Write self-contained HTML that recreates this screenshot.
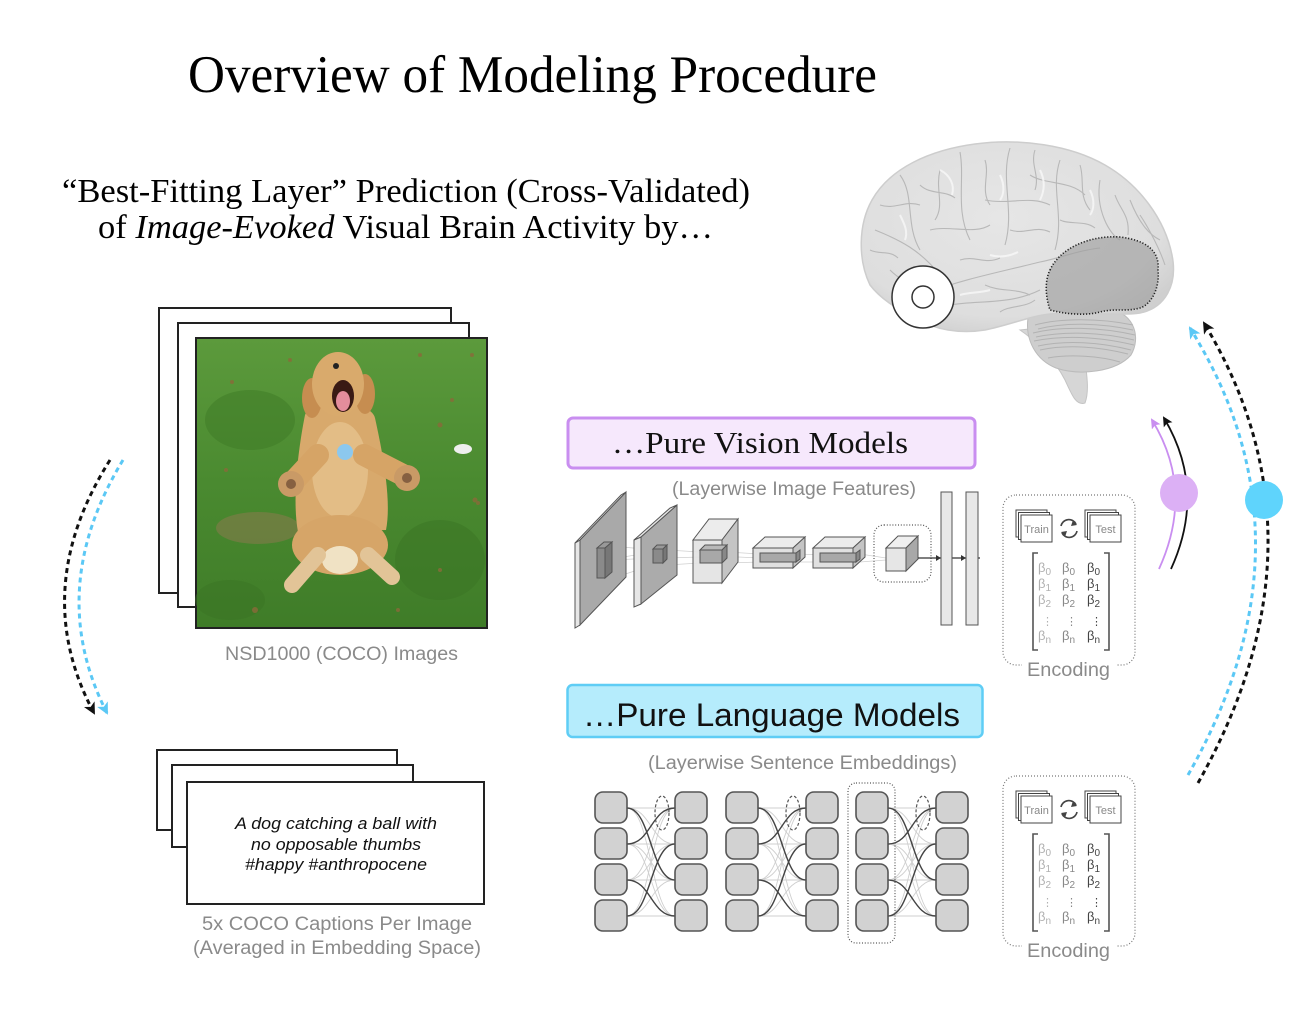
<!DOCTYPE html>
<html><head><meta charset="utf-8"><style>
html,body{margin:0;padding:0;background:#fff;}
svg{display:block;}
.serif{font-family:"Liberation Serif",serif;}
.sans{font-family:"Liberation Sans",sans-serif;}
</style></head><body>
<svg width="1300" height="1032" viewBox="0 0 1300 1032" xmlns="http://www.w3.org/2000/svg">
<defs>
 <marker id="mk" markerUnits="userSpaceOnUse" markerWidth="14" markerHeight="14" refX="10" refY="6" orient="auto"><path d="M0,0 L12,6 L0,12 L3,6 Z" fill="#111"/></marker>
 <marker id="mb" markerUnits="userSpaceOnUse" markerWidth="14" markerHeight="14" refX="10" refY="6" orient="auto"><path d="M0,0 L12,6 L0,12 L3,6 Z" fill="#5bc8f5"/></marker>
 <marker id="mp" markerUnits="userSpaceOnUse" markerWidth="12" markerHeight="12" refX="8" refY="5" orient="auto"><path d="M0,0 L10,5 L0,10 L2,5 Z" fill="#c98ef0"/></marker>
 <marker id="mk2" markerUnits="userSpaceOnUse" markerWidth="12" markerHeight="12" refX="8" refY="5" orient="auto"><path d="M0,0 L10,5 L0,10 L2,5 Z" fill="#111"/></marker>
 <linearGradient id="grass" x1="0" y1="0" x2="0" y2="1">
  <stop offset="0" stop-color="#5c9a3c"/><stop offset="0.5" stop-color="#4a8a30"/><stop offset="1" stop-color="#3f7c28"/>
 </linearGradient>
 <radialGradient id="brainG" cx="0.45" cy="0.4" r="0.65">
  <stop offset="0" stop-color="#e6e6e6"/><stop offset="0.8" stop-color="#dedede"/><stop offset="1" stop-color="#cfcfcf"/>
 </radialGradient>
 <g id="col">
  <rect x="0" y="792" width="32" height="31" rx="8" fill="#d2d2d2" stroke="#555" stroke-width="1.6"/>
  <rect x="0" y="828" width="32" height="31" rx="8" fill="#d2d2d2" stroke="#555" stroke-width="1.6"/>
  <rect x="0" y="864" width="32" height="31" rx="8" fill="#d2d2d2" stroke="#555" stroke-width="1.6"/>
  <rect x="0" y="900" width="32" height="31" rx="8" fill="#d2d2d2" stroke="#555" stroke-width="1.6"/>
 </g>
 <g id="conn" fill="none">
  <g stroke="#cfcfcf" stroke-width="0.9">
   <path d="M0,808 H48 M0,844 H48 M0,880 H48 M0,916 H48"/>
   <path d="M0,808 C24,808 24,844 48,844 M0,808 C24,808 24,880 48,880 M0,808 C24,808 24,916 48,916"/>
   <path d="M0,844 C24,844 24,808 48,808 M0,844 C24,844 24,880 48,880 M0,844 C24,844 24,916 48,916"/>
   <path d="M0,880 C24,880 24,808 48,808 M0,880 C24,880 24,844 48,844 M0,880 C24,880 24,916 48,916"/>
   <path d="M0,916 C24,916 24,808 48,808 M0,916 C24,916 24,844 48,844 M0,916 C24,916 24,880 48,880"/>
  </g>
  <g stroke="#444" stroke-width="1.4">
   <path d="M0,808 C24,808 24,880 48,880"/>
   <path d="M0,844 C24,844 24,808 48,808"/>
   <path d="M0,880 C24,880 24,916 48,916"/>
   <path d="M0,916 C24,916 24,844 48,844"/>
  </g>
  <ellipse cx="35" cy="813" rx="7" ry="17" stroke="#555" stroke-width="1.2" stroke-dasharray="3 2"/>
 </g>
 <g id="enc">
  <rect x="1003" y="495" width="132" height="170" rx="13" fill="none" stroke="#777" stroke-width="1.2" stroke-dasharray="1 2"/>
  <rect x="1022" y="656" width="94" height="20" fill="#fff"/>
  <text x="1027" y="676" class="sans" font-size="19" fill="#8a8a8a" textLength="83" lengthAdjust="spacingAndGlyphs">Encoding</text>
  <g fill="#fff" stroke="#444" stroke-width="1">
   <rect x="1016" y="510" width="31" height="27"/><rect x="1018.5" y="512.5" width="31" height="27"/><rect x="1021" y="515" width="31" height="27"/>
   <rect x="1085" y="510" width="31" height="27"/><rect x="1087.5" y="512.5" width="31" height="27"/><rect x="1090" y="515" width="31" height="27"/>
  </g>
  <text x="1036.5" y="533" class="sans" font-size="11" fill="#888" text-anchor="middle">Train</text>
  <text x="1105.5" y="533" class="sans" font-size="11" fill="#888" text-anchor="middle">Test</text>
  <g fill="none" stroke="#444" stroke-width="1.6">
   <path d="M1061,526 A8,8 0 0 1 1076,524"/><path d="M1077,531 A8,8 0 0 1 1062,533"/>
  </g>
  <path d="M1073,520 L1077,525 L1071,526 Z M1065,537 L1061,532 L1067,531 Z" fill="#444"/>
  <path d="M1038,553 H1033 V650 H1038 M1104,553 H1109 V650 H1104" fill="none" stroke="#555" stroke-width="1.6"/>
  <g class="sans" font-size="13">
   <g fill="#b0b0b0">
    <text x="1038" y="572">β<tspan font-size="10" dy="3">0</tspan></text>
    <text x="1038" y="588">β<tspan font-size="10" dy="3">1</tspan></text>
    <text x="1038" y="604">β<tspan font-size="10" dy="3">2</tspan></text>
    <text x="1042" y="625" font-size="11">⋮</text>
    <text x="1038" y="640">β<tspan font-size="10" dy="3">n</tspan></text>
   </g>
   <g fill="#888">
    <text x="1062" y="572">β<tspan font-size="10" dy="3">0</tspan></text>
    <text x="1062" y="588">β<tspan font-size="10" dy="3">1</tspan></text>
    <text x="1062" y="604">β<tspan font-size="10" dy="3">2</tspan></text>
    <text x="1066" y="625" font-size="11">⋮</text>
    <text x="1062" y="640">β<tspan font-size="10" dy="3">n</tspan></text>
   </g>
   <g fill="#444">
    <text x="1087" y="572">β<tspan font-size="10" dy="3">0</tspan></text>
    <text x="1087" y="588">β<tspan font-size="10" dy="3">1</tspan></text>
    <text x="1087" y="604">β<tspan font-size="10" dy="3">2</tspan></text>
    <text x="1091" y="625" font-size="11">⋮</text>
    <text x="1087" y="640">β<tspan font-size="10" dy="3">n</tspan></text>
   </g>
  </g>
 </g>
</defs>

<rect width="1300" height="1032" fill="#fff"/>

<!-- Titles -->
<text x="188" y="92" class="serif" font-size="53" fill="#000" textLength="689" lengthAdjust="spacingAndGlyphs">Overview of Modeling Procedure</text>
<text x="62" y="202" class="serif" font-size="34" fill="#000" textLength="688" lengthAdjust="spacingAndGlyphs">“Best-Fitting Layer” Prediction (Cross-Validated)</text>
<text x="98" y="238" class="serif" font-size="34" fill="#000" textLength="615" lengthAdjust="spacingAndGlyphs">of <tspan font-style="italic">Image-Evoked</tspan> Visual Brain Activity by…</text>

<!-- Image stack -->
<rect x="159" y="308" width="292" height="285" fill="#fff" stroke="#222" stroke-width="2"/>
<rect x="178" y="323" width="291" height="284" fill="#fff" stroke="#222" stroke-width="2"/>
<rect x="196" y="338" width="291" height="290" fill="url(#grass)" stroke="#222" stroke-width="2"/>
<g>
 <ellipse cx="250" cy="420" rx="45" ry="30" fill="#3e7a26" opacity="0.5"/>
 <ellipse cx="440" cy="560" rx="45" ry="40" fill="#3a7424" opacity="0.5"/>
 <ellipse cx="230" cy="600" rx="35" ry="20" fill="#3a7424" opacity="0.5"/>
 <ellipse cx="258" cy="528" rx="42" ry="16" fill="#8a7a4e" opacity="0.55"/>
 <ellipse cx="463" cy="449" rx="9" ry="5" fill="#eeeeee"/>
 <g fill="#8a6a3a" opacity="0.8">
  <circle cx="232" cy="382" r="2"/><circle cx="290" cy="360" r="2"/><circle cx="440" cy="425" r="2.5"/><circle cx="452" cy="400" r="2"/>
  <circle cx="475" cy="500" r="2.5"/><circle cx="478" cy="503" r="2"/><circle cx="440" cy="570" r="2"/><circle cx="398" cy="610" r="2"/>
  <circle cx="255" cy="610" r="3"/><circle cx="226" cy="470" r="2"/><circle cx="420" cy="355" r="2"/><circle cx="472" cy="355" r="2"/>
 </g>
 <!-- dog -->
 <path d="M305,415 C310,400 370,398 375,418 C382,450 392,500 386,530 L298,532 C292,500 298,450 305,415 Z" fill="#d8a96c"/>
 <ellipse cx="340" cy="470" rx="28" ry="48" fill="#e3bd86"/>
 <ellipse cx="340" cy="545" rx="48" ry="30" fill="#d6a568"/>
 <ellipse cx="340" cy="560" rx="18" ry="14" fill="#f0e2c4"/>
 <path d="M318,555 L292,585" stroke="#e2c497" stroke-width="16" stroke-linecap="round"/>
 <path d="M368,555 L392,577" stroke="#e2c497" stroke-width="16" stroke-linecap="round"/>
 <path d="M318,455 L293,482" stroke="#d6a466" stroke-width="22" stroke-linecap="round"/>
 <path d="M364,455 L405,476" stroke="#d6a466" stroke-width="22" stroke-linecap="round"/>
 <circle cx="291" cy="484" r="13" fill="#c99a66"/>
 <circle cx="407" cy="478" r="13" fill="#c99a66"/>
 <circle cx="291" cy="484" r="5" fill="#5a3a28" opacity="0.6"/>
 <circle cx="407" cy="478" r="5" fill="#5a3a28" opacity="0.6"/>
 <ellipse cx="312" cy="398" rx="10" ry="20" fill="#c68d50"/>
 <ellipse cx="365" cy="394" rx="10" ry="20" fill="#c68d50"/>
 <ellipse cx="338" cy="384" rx="26" ry="32" fill="#d9aa6c"/>
 <ellipse cx="343" cy="396" rx="11" ry="16" fill="#3a1a14"/>
 <ellipse cx="343" cy="401" rx="7" ry="10" fill="#e48d9c"/>
 <circle cx="336" cy="366" r="3" fill="#222"/>
 <circle cx="345" cy="452" r="8" fill="#8cc8ee"/>
</g>
<text x="225" y="660" class="sans" font-size="19" fill="#8a8a8a" textLength="233" lengthAdjust="spacingAndGlyphs">NSD1000 (COCO) Images</text>

<!-- Caption stack -->
<rect x="157" y="750" width="240" height="80" fill="#fff" stroke="#222" stroke-width="2"/>
<rect x="172" y="765" width="241" height="82" fill="#fff" stroke="#222" stroke-width="2"/>
<rect x="187" y="782" width="297" height="122" fill="#fff" stroke="#222" stroke-width="2"/>
<g class="sans" font-size="17" font-style="italic" fill="#111">
 <text x="235" y="829" textLength="202" lengthAdjust="spacingAndGlyphs">A dog catching a ball with</text>
 <text x="251" y="850" textLength="170" lengthAdjust="spacingAndGlyphs">no opposable thumbs</text>
 <text x="245" y="870" textLength="182" lengthAdjust="spacingAndGlyphs">#happy #anthropocene</text>
</g>
<text x="202" y="930" class="sans" font-size="19" fill="#8a8a8a" textLength="270" lengthAdjust="spacingAndGlyphs">5x COCO Captions Per Image</text>
<text x="193" y="954" class="sans" font-size="19" fill="#8a8a8a" textLength="288" lengthAdjust="spacingAndGlyphs">(Averaged in Embedding Space)</text>

<!-- Left arrows -->
<path d="M110,460 Q28,590 94,713" fill="none" stroke="#111" stroke-width="3" stroke-dasharray="5 4" marker-end="url(#mk)"/>
<path d="M123,460 Q44,590 107,713" fill="none" stroke="#5bc8f5" stroke-width="3" stroke-dasharray="5 4" marker-end="url(#mb)"/>

<!-- Vision box -->
<rect x="568" y="418" width="407" height="50" rx="5" fill="#f6e8fc" stroke="#c98ef0" stroke-width="3"/>
<text x="612" y="453" class="serif" font-size="31" fill="#111" textLength="296" lengthAdjust="spacingAndGlyphs">…Pure Vision Models</text>
<text x="672" y="495" class="sans" font-size="19" fill="#8a8a8a" textLength="244" lengthAdjust="spacingAndGlyphs">(Layerwise Image Features)</text>

<!-- CNN -->
<g stroke="#555" stroke-width="1">
 <g stroke="#d0d0d0" stroke-width="0.8" fill="none">
  <path d="M613,546 L653,550 M613,578 L653,565 M613,560 L653,558 M606,560 L653,552"/>
  <path d="M667,550 L700,552 M667,565 L700,563 M667,558 L700,557"/>
  <path d="M727,552 L760,554 M727,563 L760,562 M738,557 L760,558"/>
  <path d="M800,554 L820,555 M800,562 L820,562"/>
  <path d="M860,554 L886,558 M860,562 L886,560"/>
 </g>
 <polygon points="575,543 580,540 580,625 575,628" fill="#e6e6e6"/>
 <polygon points="580,540 626,492 626,577 580,625" fill="#a9a9a9"/>
 <polygon points="575,543 621,495 626,492 580,540" fill="#e6e6e6"/>
 <polygon points="597,548 604,542 612,542 605,548" fill="#999"/>
 <polygon points="605,548 612,542 612,572 605,578" fill="#777"/>
 <rect x="597" y="548" width="8" height="30" fill="#8a8a8a"/>
 <polygon points="634,540 641,537 641,604 634,607" fill="#e6e6e6"/>
 <polygon points="641,537 677,505 677,575 641,604" fill="#ababab"/>
 <polygon points="634,540 670,508 677,505 641,537" fill="#e6e6e6"/>
 <rect x="653" y="549" width="10" height="14" fill="#8a8a8a"/>
 <polygon points="653,549 657,545 667,545 663,549" fill="#999"/>
 <polygon points="663,549 667,545 667,559 663,563" fill="#777"/>
 <rect x="693" y="540" width="29" height="43" fill="#e2e2e2" fill-opacity="0.9"/>
 <polygon points="693,540 709,519 738,519 722,540" fill="#ececec"/>
 <polygon points="722,540 738,519 738,562 722,583" fill="#c4c4c4"/>
 <rect x="700" y="550" width="22" height="13" fill="#a8a8a8"/>
 <polygon points="700,550 705,545 727,545 722,550" fill="#b8b8b8"/>
 <polygon points="722,550 727,545 727,558 722,563" fill="#888"/>
 <rect x="753" y="548" width="40" height="20" fill="#e0e0e0"/>
 <polygon points="753,548 765,537 805,537 793,548" fill="#ececec"/>
 <polygon points="793,548 805,537 805,557 793,568" fill="#c4c4c4"/>
 <rect x="760" y="553" width="36" height="9" fill="#a8a8a8"/>
 <polygon points="796,553 800,550 800,559 796,562" fill="#888"/>
 <rect x="813" y="548" width="40" height="20" fill="#e0e0e0"/>
 <polygon points="813,548 825,537 865,537 853,548" fill="#ececec"/>
 <polygon points="853,548 865,537 865,557 853,568" fill="#c4c4c4"/>
 <rect x="820" y="553" width="36" height="9" fill="#a8a8a8"/>
 <polygon points="856,553 860,550 860,559 856,562" fill="#888"/>
 <rect x="874" y="525" width="57" height="57" rx="10" fill="none" stroke="#555" stroke-width="1.2" stroke-dasharray="1 1.8"/>
 <rect x="886" y="548" width="20" height="23" fill="#e6e6e6"/>
 <polygon points="886,548 898,536 918,536 906,548" fill="#efefef"/>
 <polygon points="906,548 918,536 918,559 906,571" fill="#a8a8a8"/>
 <path d="M918,558 H941 M952,558 H966 M978,558 H980" stroke="#333" stroke-width="1.2"/>
 <rect x="941" y="492" width="11" height="133" fill="#e8e8e8"/>
 <rect x="966" y="492" width="12" height="133" fill="#e8e8e8"/>
</g>
<path d="M936,555 L941,558 L936,561 Z M961,555 L966,558 L961,561 Z" fill="#333"/>

<!-- Encoding boxes -->
<use href="#enc"/>
<use href="#enc" y="281"/>

<!-- Language box -->
<rect x="567.5" y="685" width="415" height="52" rx="5" fill="#b5ecfc" stroke="#5fcdf5" stroke-width="2.5"/>
<text x="583" y="726" class="sans" font-size="32" fill="#111" textLength="377" lengthAdjust="spacingAndGlyphs">…Pure Language Models</text>
<text x="648" y="769" class="sans" font-size="19" fill="#8a8a8a" textLength="309" lengthAdjust="spacingAndGlyphs">(Layerwise Sentence Embeddings)</text>

<!-- Transformer -->
<use href="#conn" x="627"/>
<use href="#conn" x="758"/>
<use href="#conn" x="888"/>
<use href="#col" x="595"/>
<use href="#col" x="675"/>
<use href="#col" x="726"/>
<use href="#col" x="806"/>
<use href="#col" x="856"/>
<use href="#col" x="936"/>
<rect x="848" y="783" width="47" height="160" rx="8" fill="none" stroke="#555" stroke-width="1.2" stroke-dasharray="1 1.8"/>

<!-- Brain -->
<g>
 <path d="M1020,330 C1035,340 1055,360 1065,380 C1072,395 1076,406 1085,403 C1090,390 1086,370 1084,352 C1075,340 1060,332 1048,327 Z" fill="#d6d6d6" stroke="#c4c4c4"/>
 <path d="M1028,318 C1040,308 1080,306 1110,309 C1135,314 1141,338 1131,355 C1116,372 1080,376 1056,368 C1036,360 1025,340 1028,318 Z" fill="#cecece" stroke="#bbb"/>
 <g fill="none" stroke="#b2b2b2" stroke-width="1">
  <path d="M1035,325 C1060,318 1100,318 1133,325"/><path d="M1033,333 C1060,326 1100,327 1135,335"/>
  <path d="M1034,341 C1065,335 1100,337 1134,345"/><path d="M1040,350 C1068,344 1100,347 1128,354"/>
  <path d="M1048,358 C1070,354 1100,356 1120,362"/><path d="M1038,329 C1065,322 1100,323 1133,330"/>
  <path d="M1036,337 C1065,331 1100,332 1134,340"/><path d="M1038,346 C1066,340 1100,342 1131,350"/>
 </g>
 <path d="M870,285 C858,260 858,225 872,200 C890,168 930,150 975,144 C1020,138 1070,145 1105,165 C1140,185 1165,220 1172,255 C1178,285 1165,308 1140,313 C1120,316 1080,312 1050,314 C1030,316 1010,325 985,330 C960,334 935,330 915,318 C895,308 880,298 870,285 Z" fill="url(#brainG)" stroke="#cdcdcd" stroke-width="1.5"/>
 <g fill="none" stroke="#b8b8b8" stroke-width="1.1">
  <path d="M930,292 C960,280 1000,272 1040,262 C1060,258 1080,250 1100,248"/>
  <path d="M960,152 C965,180 955,210 970,240"/><path d="M1010,148 C1000,180 1015,210 1005,245"/>
  <path d="M1060,160 C1050,190 1065,215 1055,250"/><path d="M900,175 C915,195 905,225 920,250"/>
  <path d="M875,230 C900,240 920,250 940,275"/><path d="M985,200 C1010,205 1030,195 1050,205"/>
  <path d="M1100,180 C1095,210 1110,235 1120,240"/><path d="M930,230 C950,225 975,235 990,225"/>
  <path d="M1130,200 C1140,225 1150,235 1160,240"/><path d="M950,305 C980,300 1010,305 1040,290"/>
  <path d="M890,270 C905,285 925,290 940,300"/><path d="M1030,175 C1045,185 1070,180 1085,195"/>
  <path d="M880,205 C895,210 905,200 920,205"/><path d="M940,170 C935,190 945,205 935,220"/>
  <path d="M985,160 C990,175 980,190 990,205"/><path d="M1035,150 C1030,165 1040,175 1035,190"/>
  <path d="M1080,165 C1085,180 1078,195 1090,210"/><path d="M1115,195 C1120,210 1130,215 1128,235"/>
  <path d="M1140,215 C1150,230 1160,250 1165,265"/><path d="M960,260 C975,255 985,265 1000,258"/>
  <path d="M1010,230 C1025,235 1035,225 1050,232"/><path d="M870,250 C880,255 890,250 898,258"/>
  <path d="M985,285 C1000,292 1015,288 1030,295"/><path d="M1060,220 C1070,225 1085,220 1095,228"/>
  <path d="M920,185 C930,195 945,190 955,198"/><path d="M1000,312 C1010,305 1025,308 1035,300"/>
 </g>
 <g fill="none" stroke="#f6f6f6" stroke-width="2" opacity="0.9">
  <path d="M940,170 C950,175 955,185 952,195"/><path d="M1040,170 C1045,180 1045,190 1040,200"/>
  <path d="M900,215 C905,225 908,232 905,240"/><path d="M990,255 C1000,258 1010,256 1018,252"/>
  <path d="M1000,175 C1005,185 1004,195 1000,200"/><path d="M1090,190 C1095,200 1094,210 1090,215"/>
  <path d="M960,295 C970,292 980,293 990,290"/>
 </g>
 <path d="M1050,270 C1060,248 1090,235 1120,237 C1145,240 1160,250 1158,270 C1160,290 1150,305 1140,308 C1125,312 1115,308 1100,312 C1085,316 1065,314 1050,310 C1045,295 1045,280 1050,270 Z" fill="#9e9e9e" fill-opacity="0.65" stroke="#222" stroke-width="1.6" stroke-dasharray="1.2 1.8"/>
 <circle cx="923" cy="297" r="31" fill="#fff" stroke="#333" stroke-width="1.5"/>
 <circle cx="923" cy="297" r="11" fill="#fff" stroke="#333" stroke-width="1.5"/>
</g>

<!-- Right arrows -->
<path d="M1159,569 Q1195,490 1152,420" fill="none" stroke="#c98ef0" stroke-width="1.8" marker-end="url(#mp)"/>
<path d="M1171,569 Q1207,490 1164,418" fill="none" stroke="#111" stroke-width="1.8" marker-end="url(#mk2)"/>
<circle cx="1179" cy="493" r="19" fill="#dcb0f5"/>
<path d="M1188,775 Q1322,540 1190,328" fill="none" stroke="#5bc8f5" stroke-width="3" stroke-dasharray="5 4" marker-end="url(#mb)"/>
<path d="M1198,783 Q1335,540 1204,323" fill="none" stroke="#111" stroke-width="3" stroke-dasharray="5 4" marker-end="url(#mk)"/>
<circle cx="1264" cy="500" r="19" fill="#5fd4fc"/>
</svg>
</body></html>
